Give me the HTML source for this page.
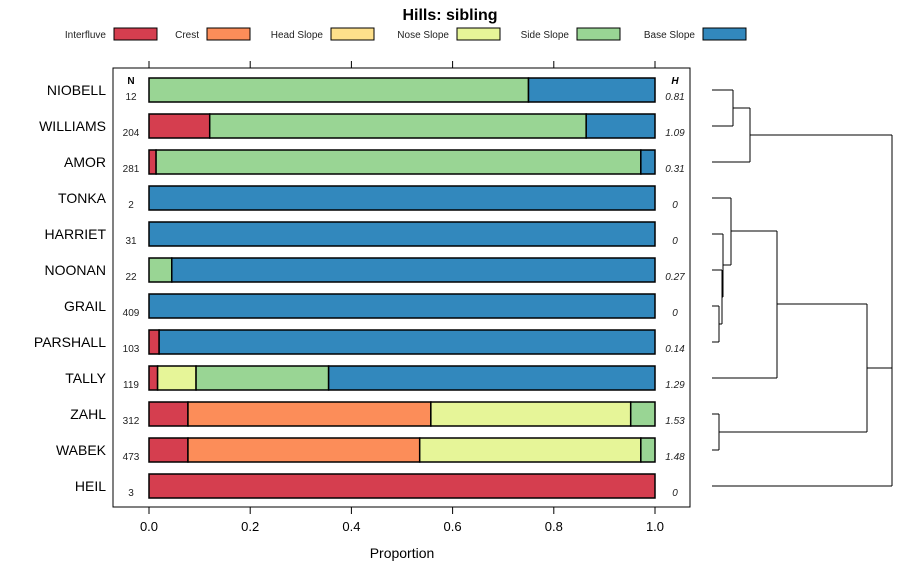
<!DOCTYPE html>
<html><head><meta charset="utf-8"><style>
body{margin:0;background:#fff;}
svg text{font-family:"Liberation Sans",sans-serif;}
</style></head><body>
<svg id="chart" width="900" height="580" xmlns="http://www.w3.org/2000/svg">
<text x="450" y="20" text-anchor="middle" font-size="16" font-weight="bold">Hills: sibling</text>
<g id="legend"></g>
<rect x="113" y="68" width="577" height="439" fill="none" stroke="#000" stroke-width="1"/>
<g id="bars"></g>
<g id="axes"></g>
<text x="402" y="558" text-anchor="middle" font-size="14">Proportion</text>
<text x="131" y="84" text-anchor="middle" font-size="10" font-weight="bold">N</text>
<text x="675" y="84" text-anchor="middle" font-size="10" font-weight="bold" font-style="italic">H</text>
<g id="dendro" stroke="#000" stroke-width="1" fill="none"></g>
</svg>
<script>
const categories=["NIOBELL","WILLIAMS","AMOR","TONKA","HARRIET","NOONAN","GRAIL","PARSHALL","TALLY","ZAHL","WABEK","HEIL"];
const seriesNames=["Interfluve","Crest","Head Slope","Nose Slope","Side Slope","Base Slope"];
const colors=["#D53E4F","#FC8D59","#FEE08B","#E6F598","#99D594","#3288BD"];
const interfluve=[0,0.12,0.014,0,0,0,0,0.02,0.017,0.077,0.077,1];
const crest=[0,0,0,0,0,0,0,0,0,0.48,0.458,0];
const headSlope=[0,0,0,0,0,0,0,0,0,0,0,0];
const noseSlope=[0,0,0,0,0,0,0,0,0.076,0.395,0.437,0];
const sideSlope=[0.75,0.744,0.958,0,0,0.045,0,0,0.262,0.048,0.028,0];
const baseSlope=[0.25,0.136,0.028,1,1,0.955,1,0.98,0.645,0,0,0];
const counts=["12","204","281","2","31","22","409","103","119","312","473","3"];
const entropy=["0.81","1.09","0.31","0","0","0.27","0","0.14","1.29","1.53","1.48","0"];
const xTicks=[0,0.2,0.4,0.6,0.8,1.0];
const xTickLabels=["0.0","0.2","0.4","0.6","0.8","1.0"];
const series=[interfluve,crest,headSlope,noseSlope,sideSlope,baseSlope];
const legendX=[114,207,331,457,577,703];
const NS="http://www.w3.org/2000/svg";
const X=v=>149+v*506;
const Y=i=>90+i*36;
function mk(tag,attrs,parent,text){const e=document.createElementNS(NS,tag);for(const k in attrs)e.setAttribute(k,attrs[k]);if(text!==undefined)e.textContent=text;parent.appendChild(e);return e;}
const lg=document.getElementById('legend');
seriesNames.forEach((n,i)=>{
  const bx=legendX[i];
  const t=mk('text',{x:bx-8,y:38,'text-anchor':'end','font-size':'10',fill:'#222'},lg,n);
  
  
  const r=mk('rect',{x:bx,y:28,width:43,height:12,fill:colors[i],stroke:'#000','stroke-width':1},lg);
  
  
});
const bg=document.getElementById('bars');
categories.forEach((c,i)=>{
  const y=Y(i);
  let cum=0;
  series.forEach((s,k)=>{
    const v=s[i];
    if(v>0){
      const r=mk('rect',{x:X(cum),y:y-12,width:X(cum+v)-X(cum),height:24,fill:colors[k],stroke:'#000','stroke-width':1.5},bg);
      
      
    }
    cum+=v;
  });
  const l=mk('text',{x:106,y:y+5,'text-anchor':'end','font-size':'14'},bg,c);
  
  
  const n=mk('text',{x:131,y:y+10,'text-anchor':'middle','font-size':'10',fill:'#222'},bg,counts[i]);
  
  
  const h=mk('text',{x:675,y:y+10,'text-anchor':'middle','font-size':'10','font-style':'italic',fill:'#222'},bg,entropy[i]);
  
  
});
const ag=document.getElementById('axes');
xTicks.forEach((t,i)=>{
  const x=X(t);
  const a=mk('line',{x1:x,x2:x,y1:61,y2:68,stroke:'#000'},ag);
  
  
  const b=mk('line',{x1:x,x2:x,y1:507,y2:514,stroke:'#000'},ag);
  
  
  const tl=mk('text',{x:x,y:531,'text-anchor':'middle','font-size':'13'},ag,xTickLabels[i]);
  
  
});
const dg=document.getElementById('dendro');
const segs=[
[712,90,733,90],[712,126,733,126],[733,90,733,126],
[733,108,750,108],[712,162,750,162],[750,108,750,162],
[750,135,892,135],
[712,306,719,306],[712,342,719,342],[719,306,719,324],[719,324,719,342],
[712,270,722,270],[719,324,722,324],[722,270,722,324],
[712,234,723,234],[722,297,723,297],[723,234,723,297],
[712,198,731,198],[723,265,731,265],[731,198,731,265],
[731,231,777,231],[712,378,777,378],[777,231,777,378],
[712,414,719,414],[712,450,719,450],[719,414,719,450],
[777,304,867,304],[719,432,867,432],[867,304,867,432],
[867,368,892,368],[712,486,892,486],[892,135,892,486]
];
segs.forEach(s=>{
  const l=mk('line',{x1:s[0],y1:s[1],x2:s[2],y2:s[3]},dg);
  
  
});
</script>
</body></html>
